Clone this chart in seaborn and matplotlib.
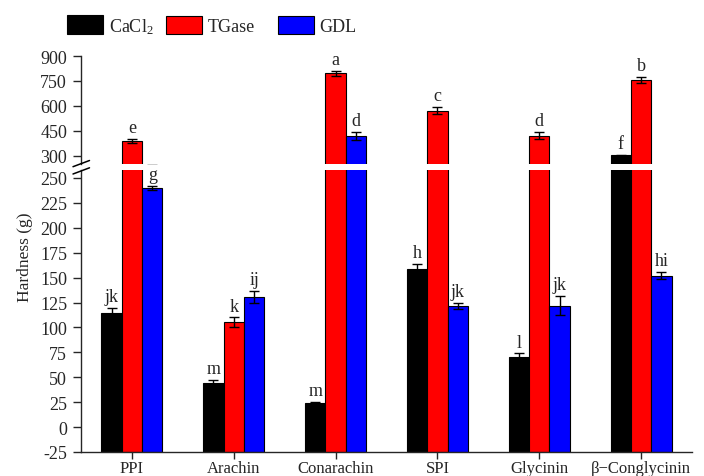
import numpy as np
import pandas as pd
import matplotlib
matplotlib.use("Agg")
import matplotlib.pyplot as plt
from matplotlib.patches import Patch
from matplotlib.lines import Line2D
import seaborn as sns

# Gel hardness of protein isolates / fractions with three coagulants
proteins = ["PPI", "Arachin", "Conarachin", "SPI", "Glycinin", "β\u2212Conglycinin"]
coagulants = ["CaCl$_2$", "TGase", "GDL"]
colors = ["#000000", "#ff0000", "#0000ff"]

cacl2 = [114, 44, 24, 159, 70, 304]
cacl2_err = [6, 3, 1.5, 5, 4, 3]
tgase = [390, 105, 795, 570, 420, 755]
tgase_err = [13, 5, 15, 22, 22, 20]
gdl = [240, 131, 420, 122, 122, 152]
gdl_err = [2, 6, 25, 3, 10, 3.5]

letters_cacl2 = ["jk", "m", "m", "h", "l", "f"]
letters_tgase = ["e", "k", "a", "c", "d", "b"]
letters_gdl = ["g", "ij", "d", "jk", "jk", "hi"]

upper_ticks = [300, 450, 600, 750, 900]
lower_ticks = [-25, 0, 25, 50, 75, 100, 125, 150, 175, 200, 225, 250]
y_floor = -25
break_lo, break_hi = 258, 250

sns.set_style("ticks")
serif = ["Liberation Serif", "DejaVu Serif"]
plt.rcParams["font.family"] = serif
plt.rcParams["axes.unicode_minus"] = False
plt.rcParams["mathtext.fontset"] = "custom"
plt.rcParams["mathtext.rm"] = "Liberation Serif"
plt.rcParams["mathtext.it"] = "Liberation Serif:italic"
plt.rcParams["mathtext.bf"] = "Liberation Serif:bold"

df = pd.DataFrame({
    "protein": proteins * 3,
    "coagulant": np.repeat(coagulants, len(proteins)),
    "hardness": cacl2 + tgase + gdl,
})

fig = plt.figure(figsize=(7.04, 4.77), dpi=100)
W, H = 704, 477
left, right = 81 / W, 692 / W
ax_top = fig.add_axes([left, 1 - 165 / H, right - left, (165 - 57) / H])
ax_bot = fig.add_axes([left, 1 - 453 / H, right - left, (453 - 171) / H])

series = [(cacl2, cacl2_err, letters_cacl2),
          (tgase, tgase_err, letters_tgase),
          (gdl, gdl_err, letters_gdl)]
offsets = [-0.2, 0.0, 0.2]
xpos = np.arange(len(proteins))

for ax in (ax_top, ax_bot):
    sns.barplot(data=df, x="protein", y="hardness", hue="coagulant",
                order=proteins, hue_order=coagulants, palette=colors,
                width=0.6, gap=0, errorbar=None, saturation=1,
                edgecolor="black", linewidth=0.8, legend=False, ax=ax)
    # bars rise from the bottom of the value axis
    for p in ax.patches:
        h = p.get_height()
        p.set_y(y_floor)
        p.set_height(h - y_floor)
    for (vals, errs, _), off in zip(series, offsets):
        ax.errorbar(xpos + off, vals, yerr=errs, fmt="none", ecolor="black",
                    elinewidth=1, capsize=3.5, capthick=1, zorder=5)
    ax.set_xlim(-0.5, len(proteins) - 0.5)
    ax.set_xlabel("")
    ax.set_ylabel("")
    ax.tick_params(axis="y", direction="out", width=1, length=6,
                   pad=4, labelsize=13)
    ax.tick_params(axis="x", direction="out", width=1, length=5,
                   pad=1, labelsize=12)
    for s in ("top", "right"):
        ax.spines[s].set_visible(False)
    for s in ("left", "bottom"):
        ax.spines[s].set_linewidth(1)

ax_top.set_ylim(break_hi, 900)
ax_top.set_yticks(upper_ticks)
ax_top.spines["bottom"].set_visible(False)
ax_top.tick_params(axis="x", bottom=False, labelbottom=False)

ax_bot.set_ylim(y_floor, break_lo)
ax_bot.set_yticks(lower_ticks)
ax_bot.set_xticks(xpos)
ax_bot.set_xticklabels(proteins, fontsize=12)

# significance letters above each error bar
for (vals, errs, letters), off in zip(series, offsets):
    for x, v, e, t in zip(xpos + off, vals, errs, letters):
        ax = ax_top if v + e > break_lo else ax_bot
        ax.annotate(t, (x, v + e), xytext=(0, 2), textcoords="offset points",
                    ha="center", va="bottom", fontsize=13, zorder=6)

# axis break marks
for y0 in (167.7, 175.0):
    fig.add_artist(Line2D([73 / W, 89.5 / W],
                          [1 - y0 / H, 1 - (y0 - 6.2) / H],
                          color="black", lw=1.1))

fig.text(25 / W, 1 - 257 / H, "Hardness (g)", rotation=90,
         ha="center", va="center", fontsize=12.5)

# one legend entry per coagulant, laid out across the top
legend_x = [67, 166, 278]
for c, l, lx in zip(colors, coagulants, legend_x):
    h = Patch(facecolor=c, edgecolor="black", linewidth=0.8, label=l)
    fig.legend(handles=[h], loc="center left",
               bbox_to_anchor=(lx / W, 1 - 26.5 / H), frameon=False,
               fontsize=13, handlelength=2.0, handleheight=1.2,
               handletextpad=0.3, borderpad=0, borderaxespad=0)

fig.savefig("out.png", dpi=100)
